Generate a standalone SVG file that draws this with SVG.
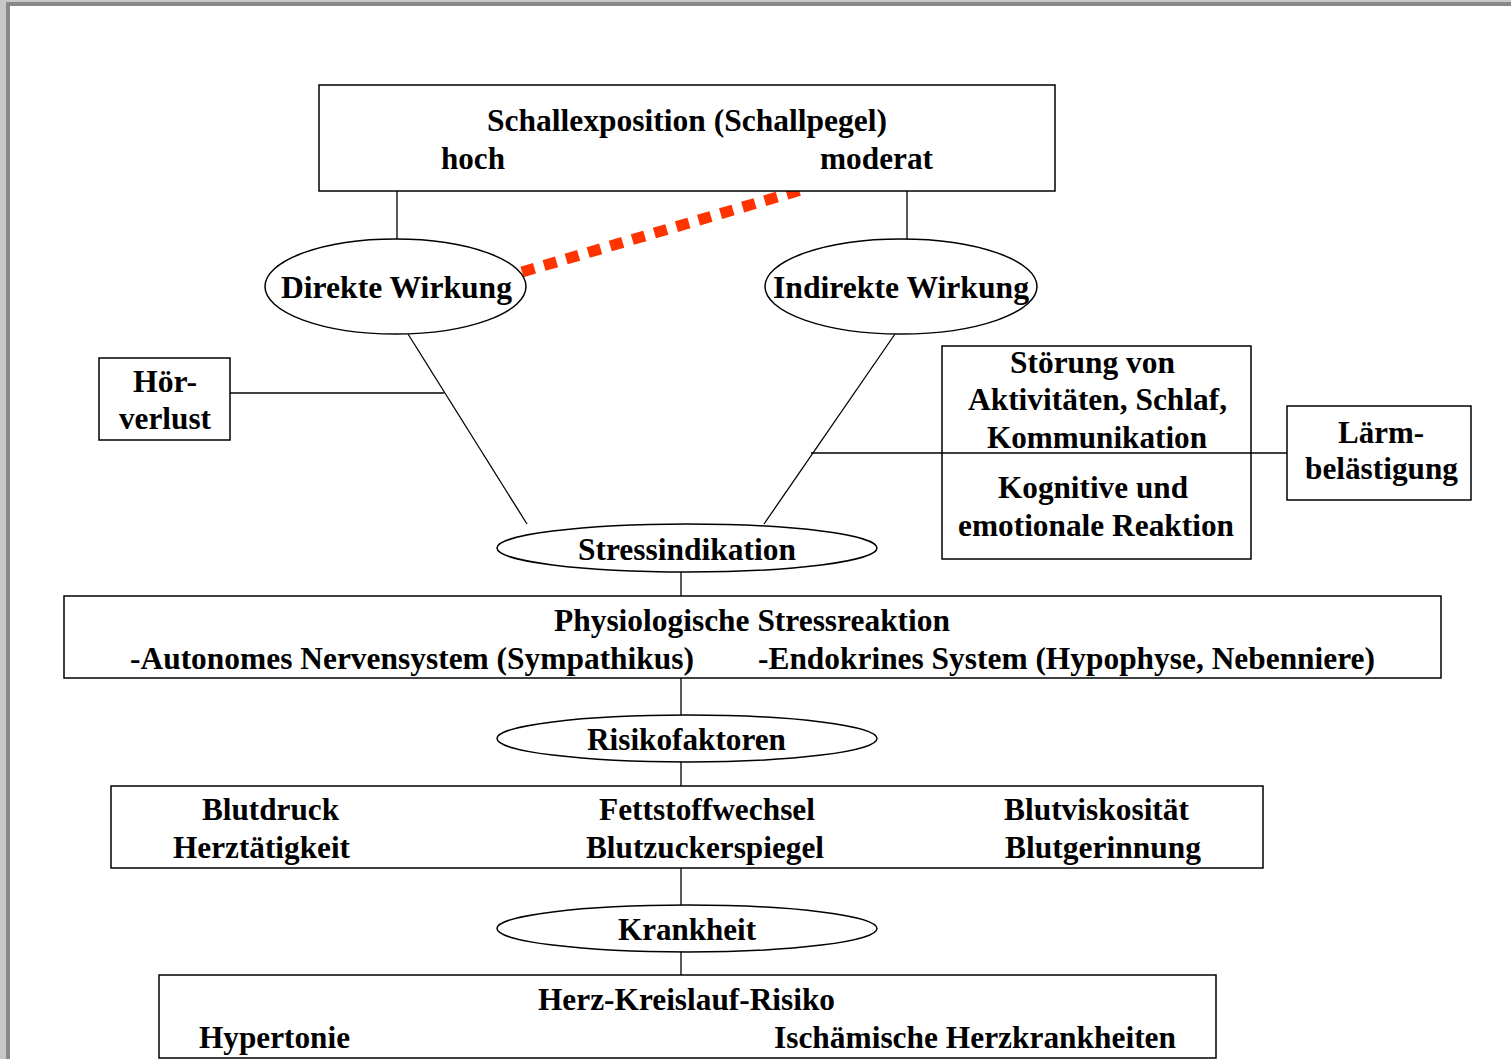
<svg xmlns="http://www.w3.org/2000/svg" width="1511" height="1059" viewBox="0 0 1511 1059">
<style>
.t{font-family:"Liberation Serif","Times New Roman",serif;font-weight:bold;font-size:31px;fill:#000}
.b{fill:#fff;stroke:#000;stroke-width:1.5}
.l{stroke:#000;stroke-width:1.3;fill:none}
</style>
<rect x="0" y="0" width="1511" height="1059" fill="#fff"/>
<rect x="0" y="0" width="1511" height="6" fill="#c8c8c8"/>
<rect x="6" y="2" width="1505" height="4" fill="#888"/>
<rect x="0" y="0" width="6" height="1059" fill="#c8c8c8"/>
<rect x="6" y="2" width="4" height="1057" fill="#888"/>
<g id="connectors">
<line class="l" x1="397" y1="191" x2="397" y2="240"/>
<line class="l" x1="907" y1="191" x2="907" y2="240"/>
<line class="l" x1="408" y1="334" x2="527" y2="524"/>
<line class="l" x1="230" y1="393" x2="444" y2="393"/>
<line class="l" x1="895" y1="334" x2="764" y2="524"/>
<line class="l" x1="811" y1="453" x2="1287" y2="453"/>
<line class="l" x1="681" y1="572" x2="681" y2="596"/>
<line class="l" x1="681" y1="678" x2="681" y2="715"/>
<line class="l" x1="681" y1="762" x2="681" y2="786"/>
<line class="l" x1="681" y1="868" x2="681" y2="905"/>
<line class="l" x1="681" y1="952" x2="681" y2="975"/>
<line x1="522" y1="272" x2="801" y2="190" stroke="#ff3300" stroke-width="11" stroke-dasharray="13 10"/>
</g>
<g id="schallexposition">
<rect class="b" x="319" y="85" width="736" height="106"/>
<text class="t" x="487" y="131" textLength="400" lengthAdjust="spacingAndGlyphs">Schallexposition (Schallpegel)</text>
<text class="t" x="441" y="169" textLength="64" lengthAdjust="spacingAndGlyphs">hoch</text>
<text class="t" x="820" y="169" textLength="113" lengthAdjust="spacingAndGlyphs">moderat</text>
</g>
<g id="direkte">
<ellipse class="b" cx="395.5" cy="286.5" rx="130.5" ry="47.5"/>
<text class="t" x="281" y="298" textLength="231" lengthAdjust="spacingAndGlyphs">Direkte Wirkung</text>
</g>
<g id="indirekte">
<ellipse class="b" cx="901" cy="286.5" rx="136" ry="47.5"/>
<text class="t" x="773" y="298" textLength="256" lengthAdjust="spacingAndGlyphs">Indirekte Wirkung</text>
</g>
<g id="hoerverlust">
<rect class="b" x="99" y="358" width="131" height="82"/>
<text class="t" x="133" y="392" textLength="64" lengthAdjust="spacingAndGlyphs">Hör-</text>
<text class="t" x="119" y="429" textLength="92" lengthAdjust="spacingAndGlyphs">verlust</text>
</g>
<g id="stoerung">
<rect class="b" x="942" y="346" width="309" height="213"/>
<line class="l" x1="942" y1="453" x2="1251" y2="453"/>
<text class="t" x="1010" y="373" textLength="165" lengthAdjust="spacingAndGlyphs">Störung von</text>
<text class="t" x="968" y="410" textLength="259" lengthAdjust="spacingAndGlyphs">Aktivitäten, Schlaf,</text>
<text class="t" x="987" y="448" textLength="220" lengthAdjust="spacingAndGlyphs">Kommunikation</text>
<text class="t" x="998" y="498" textLength="190" lengthAdjust="spacingAndGlyphs">Kognitive und</text>
<text class="t" x="958" y="536" textLength="276" lengthAdjust="spacingAndGlyphs">emotionale Reaktion</text>
</g>
<g id="laerm">
<rect class="b" x="1287" y="406" width="184" height="94"/>
<text class="t" x="1338" y="443" textLength="86" lengthAdjust="spacingAndGlyphs">Lärm-</text>
<text class="t" x="1305" y="479" textLength="153" lengthAdjust="spacingAndGlyphs">belästigung</text>
</g>
<g id="stressindikation">
<ellipse class="b" cx="687" cy="548" rx="190" ry="24"/>
<text class="t" x="578" y="560" textLength="218" lengthAdjust="spacingAndGlyphs">Stressindikation</text>
</g>
<g id="physiologische">
<rect class="b" x="64" y="596" width="1377" height="82"/>
<text class="t" x="554" y="631" textLength="396" lengthAdjust="spacingAndGlyphs">Physiologische Stressreaktion</text>
<text class="t" x="130" y="669" textLength="564" lengthAdjust="spacingAndGlyphs">-Autonomes Nervensystem (Sympathikus)</text>
<text class="t" x="758" y="669" textLength="617" lengthAdjust="spacingAndGlyphs">-Endokrines System (Hypophyse, Nebenniere)</text>
</g>
<g id="risikofaktoren">
<ellipse class="b" cx="687" cy="738.5" rx="190" ry="23.5"/>
<text class="t" x="587" y="750" textLength="199" lengthAdjust="spacingAndGlyphs">Risikofaktoren</text>
</g>
<g id="faktoren">
<rect class="b" x="111" y="786" width="1152" height="82"/>
<text class="t" x="202" y="820" textLength="137" lengthAdjust="spacingAndGlyphs">Blutdruck</text>
<text class="t" x="173" y="858" textLength="177" lengthAdjust="spacingAndGlyphs">Herztätigkeit</text>
<text class="t" x="599" y="820" textLength="216" lengthAdjust="spacingAndGlyphs">Fettstoffwechsel</text>
<text class="t" x="586" y="858" textLength="238" lengthAdjust="spacingAndGlyphs">Blutzuckerspiegel</text>
<text class="t" x="1004" y="820" textLength="185" lengthAdjust="spacingAndGlyphs">Blutviskosität</text>
<text class="t" x="1005" y="858" textLength="196" lengthAdjust="spacingAndGlyphs">Blutgerinnung</text>
</g>
<g id="krankheit">
<ellipse class="b" cx="687" cy="928.5" rx="190" ry="23.5"/>
<text class="t" x="618" y="940" textLength="138" lengthAdjust="spacingAndGlyphs">Krankheit</text>
</g>
<g id="herzkreislauf">
<rect class="b" x="159" y="975" width="1057" height="83"/>
<text class="t" x="538" y="1010" textLength="297" lengthAdjust="spacingAndGlyphs">Herz-Kreislauf-Risiko</text>
<text class="t" x="199" y="1048" textLength="151" lengthAdjust="spacingAndGlyphs">Hypertonie</text>
<text class="t" x="774" y="1048" textLength="402" lengthAdjust="spacingAndGlyphs">Ischämische Herzkrankheiten</text>
</g>
</svg>
